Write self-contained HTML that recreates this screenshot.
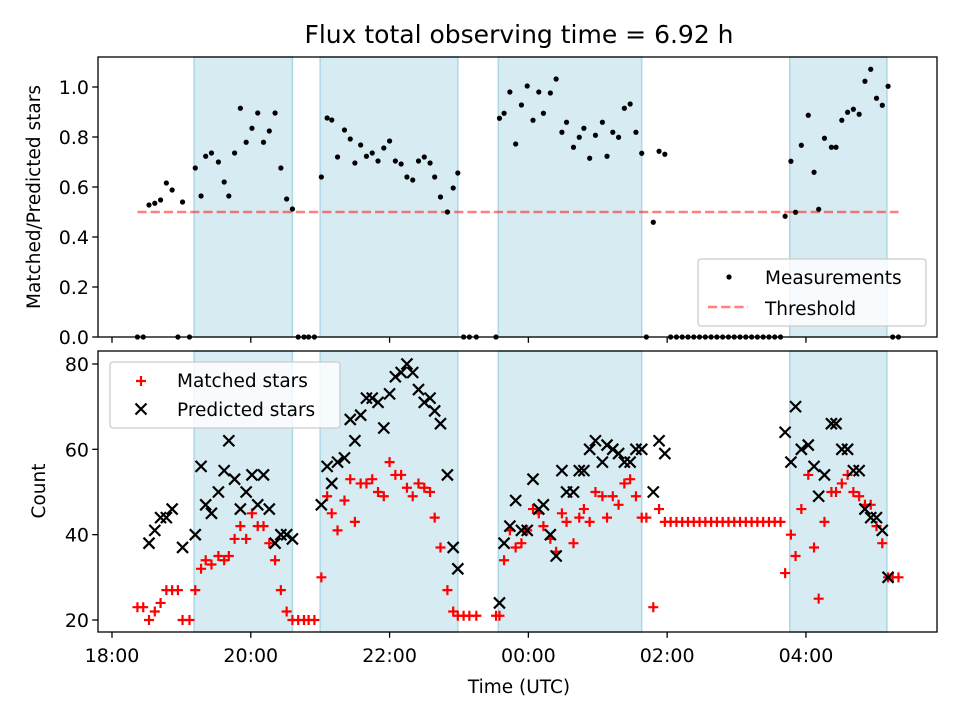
<!DOCTYPE html>
<html><head><meta charset="utf-8"><style>
body{margin:0;background:#fff}
svg{display:block;font-family:"DejaVu Sans","Liberation Sans",sans-serif}
</style></head><body>
<svg id="chart" width="960" height="720" viewBox="0 0 960 720" xmlns="http://www.w3.org/2000/svg"></svg>
<script>
// minutes since 18:00 UTC
const minutes=[22,27,32,37,42,47,52,57,61,67,72,77,81,86,92,97,101,106,111,116,121,126,131,136,141,146,151,156,161,166,170,175,181,186,190,195,201,206,210,215,220,225,230,235,240,245,250,255,260,265,270,275,279,284,290,295,299,304,309,315,332,335,339,344,349,354,359,364,369,373,379,384,389,393,399,404,408,413,418,424,428,433,438,443,448,453,458,462,468,473,478,483,488,493,498,503,508,513,518,523,528,533,538,543,548,553,558,563,568,573,578,582,587,591,596,602,607,611,616,622,626,631,636,641,646,651,656,661,666,671,675,680];
const ratio=[0,0,.528,.535,.548,.616,.588,0,.54,0,.676,.564,.723,.736,.70,.62,.564,.736,.915,.779,.835,.896,.779,.824,.896,.676,.552,.512,0,0,0,0,.64,.876,.868,.72,.828,.792,.696,.768,.723,.736,.704,.756,.784,.704,.692,.64,.628,.704,.72,.696,.64,.56,.50,.596,.656,0,0,0,0,.875,.895,.98,.772,.928,1.004,.867,.98,.895,.976,1.032,.819,.859,.759,.799,.835,.715,.807,.859,.723,.819,.799,.915,.932,.819,.735,0,.459,.743,.731,0,0,0,0,0,0,0,0,0,0,0,0,0,0,0,0,0,0,0,0,.483,.703,.499,.767,.887,.659,.511,.795,.759,.759,.867,.899,.911,.891,1.023,1.071,.955,.927,1.003,0,0];
const matched=[23,23,20,22,24,27,27,27,20,20,27,32,34,33,35,34,35,39,42,39,45,42,42,38,34,27,22,20,20,20,20,20,30,49,45,41,48,53,43,52,52,53,50,49,57,54,54,51,49,52,51,50,44,37,27,22,21,21,21,21,21,21,34,41,37,38,41,46,45,42,39,36,45,43,38,44,46,43,50,49,44,49,47,52,53,49,44,44,23,46,43,43,43,43,43,43,43,43,43,43,43,43,43,43,43,43,43,43,43,43,43,31,40,35,46,54,37,25,43,50,50,52,54,50,49,47,47,42,38,30,30,30];
const predicted=[null,null,38,41,44,44,46,null,37,null,40,56,47,45,50,55,62,53,46,50,54,47,54,46,38,40,40,39,null,null,null,null,47,56,52,57,58,67,62,68,72,72,71,65,73,77,78,80,78,74,71,72,69,66,54,37,32,null,null,null,null,24,38,42,48,41,41,53,46,47,40,35,55,50,50,55,55,60,62,57,61,60,59,57,57,60,60,null,50,62,59,null,null,null,null,null,null,null,null,null,null,null,null,null,null,null,null,null,null,null,null,64,57,70,60,61,56,49,54,66,66,60,60,55,55,46,44,44,41,30,null,null];
const shadeStart=[71,180,334,586];
const shadeEnd=[156,299,458,670];
const threshold=0.5;
const ratioTicks=[0,0.2,0.4,0.6,0.8,1.0];
const ratioTickLabels=["0.0","0.2","0.4","0.6","0.8","1.0"];
const countTicks=[20,40,60,80];
const timeTicks=[0,120,240,360,480,600];
const timeTickLabels=["18:00","20:00","22:00","00:00","02:00","04:00"];

const NS="http://www.w3.org/2000/svg";
const svg=document.getElementById('chart');
function mk(tag,attrs,parent){const e=document.createElementNS(NS,tag);for(const k in attrs)e.setAttribute(k,attrs[k]);(parent||svg).appendChild(e);return e;}
const L=98,R=937;
const T1=57,B1=337,T2=351,B2=632;
const xMin=-12.1,xMax=713.3;
const x=m=>L+(m-xMin)/(xMax-xMin)*(R-L);
const y1=v=>B1-(v-0)/(1.12-0)*(B1-T1);
const cMin=17.19,cMax=83.04;
const y2=v=>B2-(v-cMin)/(cMax-cMin)*(B2-T2);
const FS=19, FL=18.5;

function panel(T,B,name){
  const g=mk('g',{});
  
  
  for(let i=0;i<shadeStart.length;i++){
    const r=mk('rect',{x:x(shadeStart[i]),y:T,width:x(shadeEnd[i])-x(shadeStart[i]),height:B-T,fill:'#add8e6','fill-opacity':0.5,stroke:'#add8e6','stroke-width':1.5},g);
    
    
  }
  return g;
}
const gTop=panel(T1,B1,'ratio-panel');
const th=mk('line',{x1:x(minutes[0]),x2:x(minutes[minutes.length-1]),y1:y1(threshold),y2:y1(threshold),stroke:'#ff0000','stroke-opacity':0.5,'stroke-width':2.5,'stroke-dasharray':'9.2,4'},gTop);


for(let i=0;i<minutes.length;i++){
  const c=mk('circle',{cx:x(minutes[i]),cy:y1(ratio[i]),r:2.6,fill:'#000'},gTop);
  
  
}
const gBot=panel(T2,B2,'count-panel');
function plus(cx,cy,g){return mk('path',{d:`M${cx-5} ${cy}H${cx+5}M${cx} ${cy-5}V${cy+5}`,stroke:'#ff0000','stroke-width':2.2,fill:'none'},g);}
function cross(cx,cy,g){return mk('path',{d:`M${cx-5.5} ${cy-5.5}L${cx+5.5} ${cy+5.5}M${cx-5.5} ${cy+5.5}L${cx+5.5} ${cy-5.5}`,stroke:'#000','stroke-width':2.2,fill:'none'},g);}
for(let i=0;i<minutes.length;i++){
  const p=plus(x(minutes[i]),y2(matched[i]),gBot);
  
  
}
for(let i=0;i<minutes.length;i++){
  if(predicted[i]==null)continue;
  const p=cross(x(minutes[i]),y2(predicted[i]),gBot);
  
  
}
function frame(T,B,name){
  const r=mk('rect',{x:L,y:T,width:R-L,height:B-T,fill:'none',stroke:'#000','stroke-width':1.3});
  
  
  timeTicks.forEach(m=>{mk('line',{x1:x(m),x2:x(m),y1:B,y2:B+5.8,stroke:'#000','stroke-width':1.3});});
}
frame(T1,B1,'top-axes-frame');
frame(T2,B2,'bottom-axes-frame');
ratioTicks.forEach((v,i)=>{
  mk('line',{x1:L-5.8,x2:L,y1:y1(v),y2:y1(v),stroke:'#000','stroke-width':1.3});
  const t=mk('text',{x:L-9,y:y1(v)+7,'text-anchor':'end','font-size':FS});
  t.textContent=ratioTickLabels[i];
  
  
});
countTicks.forEach(v=>{
  mk('line',{x1:L-5.8,x2:L,y1:y2(v),y2:y2(v),stroke:'#000','stroke-width':1.3});
  const t=mk('text',{x:L-9,y:y2(v)+7,'text-anchor':'end','font-size':FS});
  t.textContent=String(v);
  
  
});
timeTicks.forEach((m,i)=>{
  const t=mk('text',{x:x(m),y:B2+30,'text-anchor':'middle','font-size':FS});
  t.textContent=timeTickLabels[i];
  
  
});
let t=mk('text',{x:519,y:43,'text-anchor':'middle','font-size':25});
t.textContent='Flux total observing time = 6.92 h';


t=mk('text',{x:519,y:693,'text-anchor':'middle','font-size':FL});
t.textContent='Time (UTC)';


t=mk('text',{x:0,y:0,'text-anchor':'middle','font-size':FL,transform:'translate(40,197) rotate(-90)'});
t.textContent='Matched/Predicted stars';


t=mk('text',{x:0,y:0,'text-anchor':'middle','font-size':FL,transform:'translate(45,491) rotate(-90)'});
t.textContent='Count';


let lg=mk('g',{});


mk('rect',{x:698,y:259,width:228,height:67,rx:3,fill:'#fff','fill-opacity':0.8,stroke:'#ccc','stroke-width':1.3},lg);
mk('circle',{cx:729,cy:277,r:2.6,fill:'#000'},lg);
t=mk('text',{x:765,y:284,'font-size':FL},lg);t.textContent='Measurements';


mk('line',{x1:708,x2:748,y1:307,y2:307,stroke:'#ff0000','stroke-opacity':0.5,'stroke-width':2.5,'stroke-dasharray':'9.2,4'},lg);
t=mk('text',{x:765,y:315,'font-size':FL},lg);t.textContent='Threshold';


lg=mk('g',{});


mk('rect',{x:110,y:362,width:230,height:66,rx:3,fill:'#fff','fill-opacity':0.8,stroke:'#ccc','stroke-width':1.3},lg);
plus(141,381,lg);
t=mk('text',{x:177,y:387,'font-size':FL},lg);t.textContent='Matched stars';


cross(141,409,lg);
t=mk('text',{x:177,y:416,'font-size':FL},lg);t.textContent='Predicted stars';


</script>
</body></html>
